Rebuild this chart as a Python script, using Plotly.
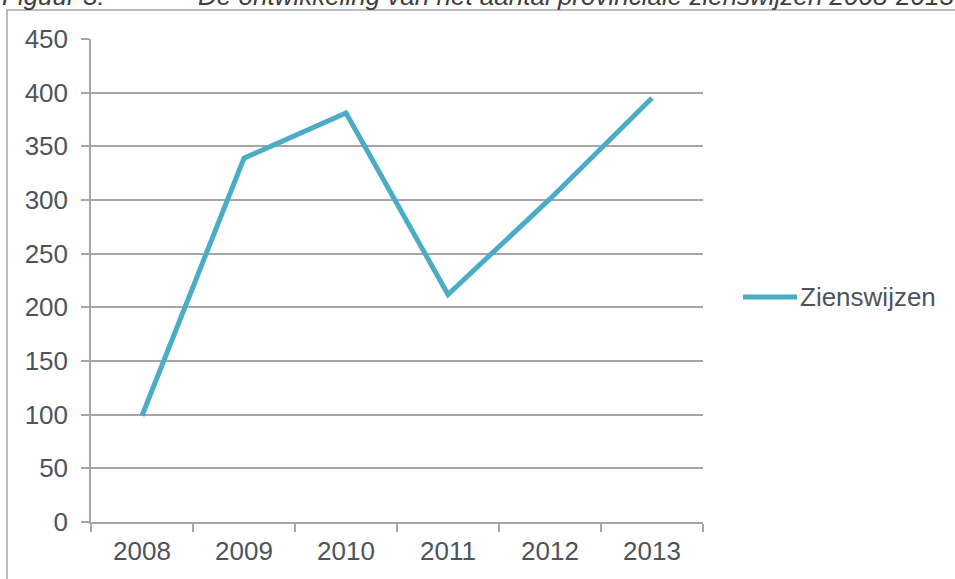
import plotly.graph_objects as go

# Number of provincial 'zienswijzen' per year
years = ["2008", "2009", "2010", "2011", "2012", "2013"]
zienswijzen = [99, 339, 381, 212, 301, 395]
y_ticks = [0, 50, 100, 150, 200, 250, 300, 350, 400, 450]

line_color = "#4bacc6"
grid_color = "#a6a6a6"
text_color = "#4d545c"
font_family = "Liberation Sans, Arial, sans-serif"

fig = go.Figure()
fig.add_trace(go.Scatter(
    x=years, y=zienswijzen, mode="lines", name="Zienswijzen",
    line=dict(color=line_color, width=5), showlegend=False,
))

W, H = 955, 579
L, R, T, B = 91, 703, 39, 522


def px(xp):
    return (xp - L) / (R - L)


def py(yp):
    return (B - yp) / (B - T)


fig.update_layout(
    width=W, height=H,
    margin=dict(l=L, r=W - R, t=T, b=H - B, pad=0),
    paper_bgcolor="white", plot_bgcolor="white",
    font=dict(family=font_family, size=26, color=text_color),
    xaxis=dict(
        type="category", range=[-0.5, 5.5],
        showline=True, linecolor=grid_color, linewidth=1.5,
        ticks="outside", tickson="boundaries", ticklen=8,
        tickcolor=grid_color, tickwidth=1.5,
        showgrid=False, ticklabelstandoff=5,
    ),
    yaxis=dict(
        range=[0, 450], tickvals=y_ticks,
        showline=True, linecolor=grid_color, linewidth=1.5,
        ticks="outside", ticklen=8, tickcolor=grid_color, tickwidth=1.5,
        showgrid=True, gridcolor=grid_color, gridwidth=1.5,
        zeroline=False, ticklabelstandoff=8,
    ),
    shapes=[
        # outer frame of the figure
        dict(type="rect", xref="paper", yref="paper",
             x0=px(7), x1=px(1100), y0=py(10), y1=py(700),
             line=dict(color=grid_color, width=1.5), layer="below"),
        # legend key
        dict(type="line", xref="paper", yref="paper",
             x0=px(743), x1=px(797), y0=py(297), y1=py(297),
             line=dict(color=line_color, width=5)),
    ],
    annotations=[
        dict(text="Zienswijzen", xref="paper", yref="paper",
             x=px(798), y=py(297), xanchor="left", yanchor="middle",
             showarrow=False, font=dict(size=26, color=text_color)),
        dict(text="<i>Figuur 3:</i>", xref="paper", yref="paper",
             x=px(0), y=py(13), xanchor="left", yanchor="bottom",
             showarrow=False, font=dict(size=26, color="#404040")),
        dict(text="<i>De ontwikkeling van het aantal provinciale zienswijzen 2008-2013</i>",
             xref="paper", yref="paper",
             x=px(196), y=py(13), xanchor="left", yanchor="bottom",
             showarrow=False, font=dict(size=26, color="#404040")),
    ],
)

fig.write_html("out.html")
